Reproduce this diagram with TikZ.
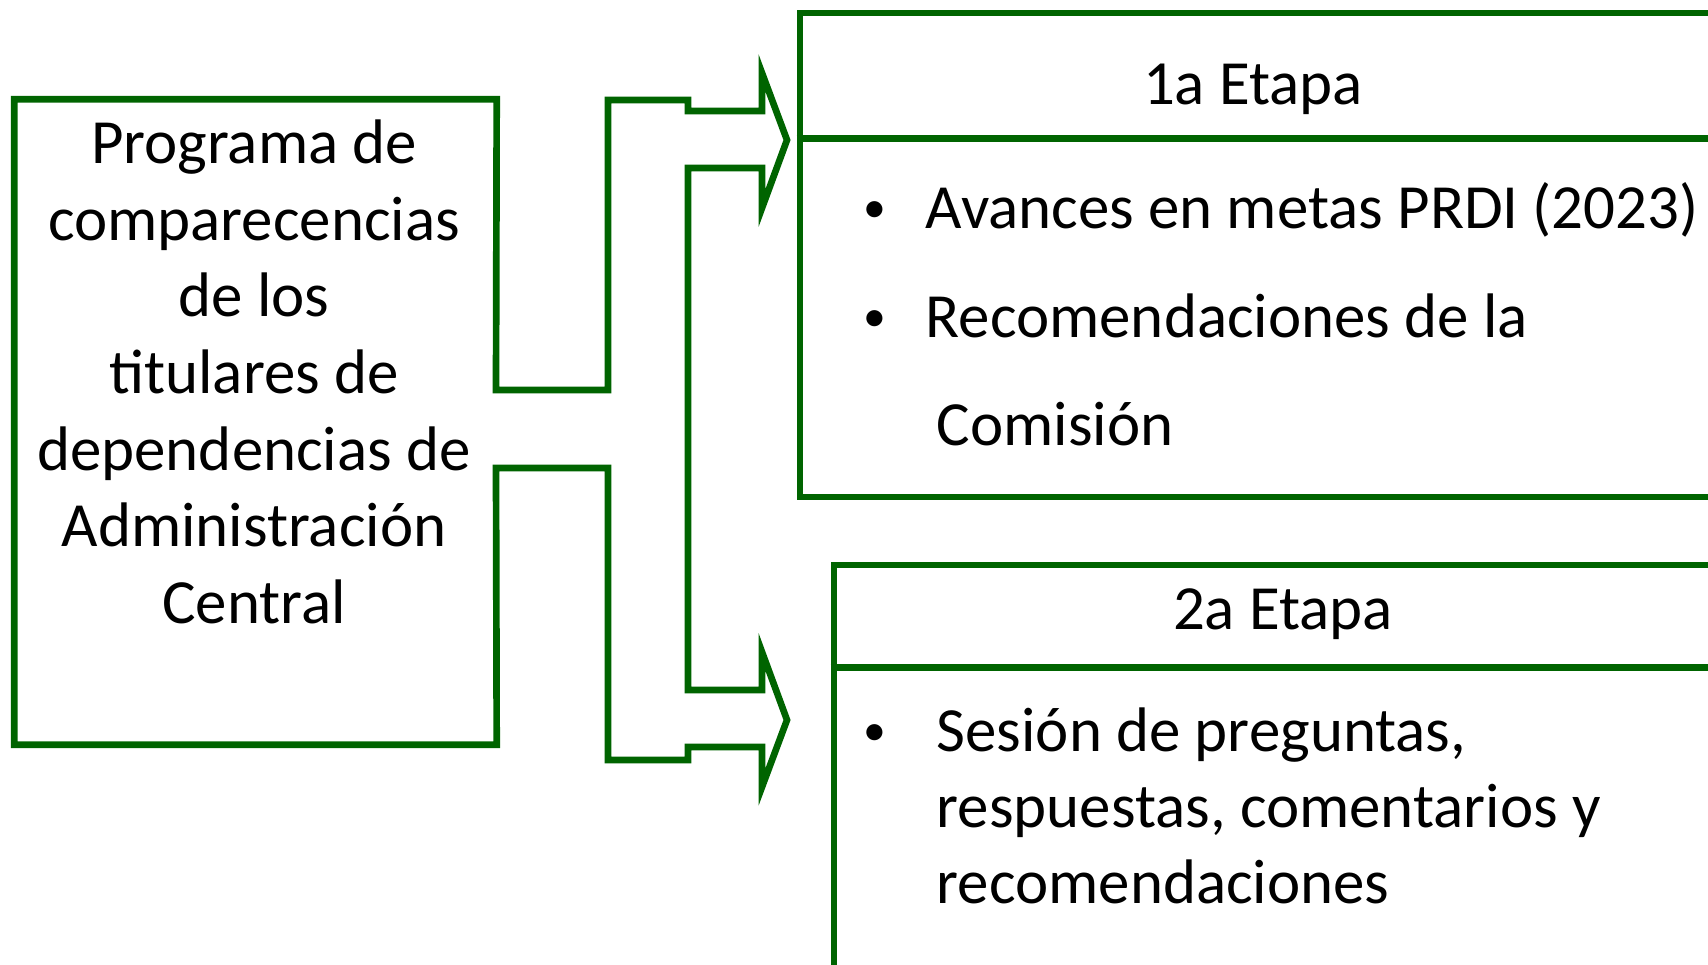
\documentclass[tikz,border=0pt]{standalone}
\usepackage{fontspec}
\setmainfont{Carlito}
\definecolor{verde}{RGB}{0,100,0}

\begin{document}
\begin{tikzpicture}[
    outline/.style={draw=verde, line width=1.9pt, line join=miter},
    stage/.style={draw=verde, line width=1.9pt, rectangle, inner sep=0pt},
    txt/.style={font=\fontsize{17.9}{22.9}\selectfont, inner sep=0pt},
    dot/.style={font=\fontsize{13}{15}\selectfont, inner sep=0pt}
]
\useasboundingbox (0,0) rectangle (17.08,-9.65);
\clip (0,0) rectangle (17.08,-9.65);

% Program box
\node[minimum width=4.81cm, minimum height=6.44cm, inner sep=0pt] (prog) at (2.555,-4.22) {};
\node[txt, align=center, font=\fontsize{17.9}{21.8}\selectfont] (progtxt) at (2.54,-3.72) {Programa de\\comparecencias\\de los\\titulares de\\dependencias de\\Administración\\Central};

% Stages
\node[stage, minimum width=9.15cm, minimum height=4.84cm] (e1) at (12.575,-2.55) {};
\node[stage, minimum width=8.98cm, minimum height=4.35cm] (e2) at (12.83,-7.825) {};
\draw[outline] ([yshift=-1.29cm]e1.north west) -- ([yshift=-1.29cm]e1.north east);
\draw[outline] ([yshift=-1.06cm]e2.north west) -- ([yshift=-1.06cm]e2.north east);

% Stage texts
\node[txt, anchor=base] (e1h) at (12.53,-1.05) {1a Etapa};
\node[dot, anchor=base] (b1) at (8.75,-2.23) {\textbullet};
\node[txt, anchor=base west] (e1a) at (9.25,-2.29) {Avances en metas PRDI (2023)};
\node[dot, anchor=base] (b2) at (8.75,-3.32) {\textbullet};
\node[txt, anchor=base west] (e1b) at (9.25,-3.38) {Recomendaciones de la};
\node[txt, anchor=base west] (e1c) at (9.36,-4.46) {Comisión};

\node[txt, anchor=base] (e2h) at (12.83,-6.30) {2a Etapa};
\node[dot, anchor=base] (b3) at (8.75,-7.46) {\textbullet};
\node[txt, anchor=base west] (e2a) at (9.36,-7.52) {Sesión de preguntas,};
\node[txt, anchor=base west] (e2b) at (9.36,-8.28) {respuestas, comentarios y};
\node[txt, anchor=base west] (e2c) at (9.36,-9.04) {recomendaciones};

% Branching arrow
\draw[outline] (prog.north east) -- (4.96,-3.90) -- (6.08,-3.90) -- (6.08,-1.00)
    -- (6.88,-1.00) -- (6.88,-1.11) -- (7.62,-1.11) -- (7.62,-0.73) -- (7.87,-1.40)
    -- (7.62,-2.08) -- (7.62,-1.68) -- (6.88,-1.68) -- (6.88,-6.90) -- (7.62,-6.90)
    -- (7.62,-6.52) -- (7.87,-7.20) -- (7.62,-7.87) -- (7.62,-7.47) -- (6.88,-7.47)
    -- (6.88,-7.60) -- (6.08,-7.60) -- (6.08,-4.68) -- (4.96,-4.68)
    -- (prog.south east) -- (prog.south west) -- (prog.north west) -- cycle;

\end{tikzpicture}
\end{document}
